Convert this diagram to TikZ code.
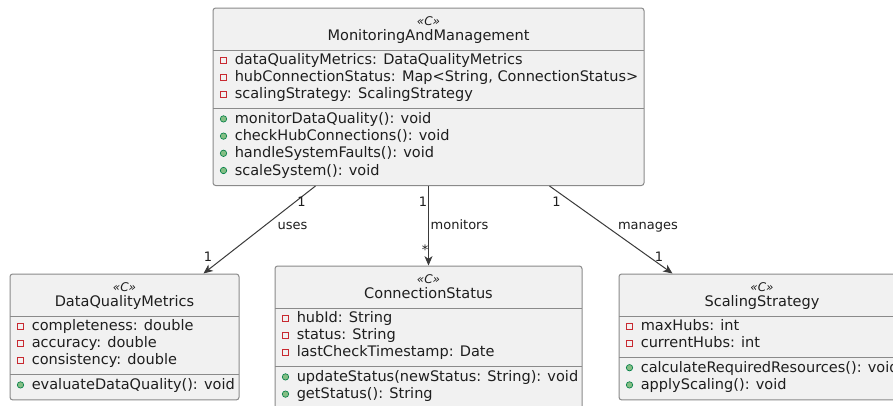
\documentclass[tikz,border=0pt]{standalone}
\usepackage{fontspec}
\setmainfont{DejaVu Sans}
\usetikzlibrary{arrows.meta,calc,fit}

\definecolor{boxfill}{HTML}{F1F1F1}
\definecolor{boxline}{HTML}{8A8A8A}
\definecolor{ink}{HTML}{1E1E1E}
\definecolor{privred}{HTML}{C82930}
\definecolor{pubfill}{HTML}{84BE84}
\definecolor{publine}{HTML}{038048}
\definecolor{wireclr}{HTML}{3A3A3A}

% one private attribute row: name, box left x, baseline y, text
\newcommand\attrrow[4]{%
  \draw[privicon] ({#2+7.5},{#3-7.5}) rectangle ({#2+13.5},{#3-1.5});
  \node[member] (#1) at ({#2+21.5},#3) {#4};}
% one public operation row: name, box left x, baseline y, text
\newcommand\oprow[4]{%
  \filldraw[pubicon] ({#2+10.5},{#3-4.5}) circle[radius=2.4pt];
  \node[member] (#1) at ({#2+21.5},#3) {#4};}

\begin{document}
\begin{tikzpicture}[x=0.75pt,y=-0.75pt,
  umlbox/.style={draw=boxline, fill=boxfill, line width=0.75pt, rounded corners=2pt, inner sep=0pt},
  sepline/.style={draw=boxline, line width=0.75pt},
  member/.style={anchor=base west, inner sep=0pt, text=ink, font=\fontsize{10.9}{13}\selectfont},
  classname/.style={anchor=base, inner sep=0pt, text=ink, font=\fontsize{10.9}{13}\selectfont},
  stereo/.style={anchor=base, inner sep=0pt, text=ink, font=\fontsize{9}{11}\selectfont\itshape},
  edgelabel/.style={anchor=base, inner sep=0pt, text=ink, font=\fontsize{9.75}{12}\selectfont},
  wire/.style={draw=wireclr, line width=0.75pt, -{Stealth[length=7pt,width=6pt,inset=2pt]}},
  privicon/.style={draw=privred, line width=0.6pt},
  pubicon/.style={fill=pubfill, draw=publine, line width=0.5pt}]

\useasboundingbox (0,0) rectangle (893,405);
\fill[white] (0,0) rectangle (893,405);
\clip (0,0) rectangle (893,405);

% ---- MonitoringAndManagement ----
\node[umlbox, fit={(213,8) (644,185.5)}] (mm) {};
\draw[sepline] (213,50) -- (644,50);
\draw[sepline] (213,108.9) -- (644,108.9);
\node[stereo] (mmst) at (428.5,25) {«C»};
\node[classname] (mmname) at (428.5,40.5) {MonitoringAndManagement};
\attrrow{mma1}{213}{64.5}{dataQualityMetrics: DataQualityMetrics}
\attrrow{mma2}{213}{81.7}{hubConnectionStatus: Map<String, ConnectionStatus>}
\attrrow{mma3}{213}{98.9}{scalingStrategy: ScalingStrategy}
\oprow{mmo1}{213}{123.4}{monitorDataQuality(): void}
\oprow{mmo2}{213}{140.6}{checkHubConnections(): void}
\oprow{mmo3}{213}{157.8}{handleSystemFaults(): void}
\oprow{mmo4}{213}{175.0}{scaleSystem(): void}

% ---- DataQualityMetrics ----
\node[umlbox, fit={(10,274) (239,399.9)}] (dqm) {};
\draw[sepline] (10,316) -- (239,316);
\draw[sepline] (10,374.9) -- (239,374.9);
\node[stereo] (dqmst) at (124.5,291.4) {«C»};
\node[classname] (dqmname) at (124.5,306.5) {DataQualityMetrics};
\attrrow{dqa1}{10}{330.5}{completeness: double}
\attrrow{dqa2}{10}{347.7}{accuracy: double}
\attrrow{dqa3}{10}{364.9}{consistency: double}
\oprow{dqo1}{10}{389.4}{evaluateDataQuality(): void}

% ---- ConnectionStatus ----
\node[umlbox, fit={(275,266) (582,409.4)}] (cs) {};
\draw[sepline] (275,308) -- (582,308);
\draw[sepline] (275,366.9) -- (582,366.9);
\node[stereo] (csst) at (428.5,283.4) {«C»};
\node[classname] (csname) at (428.5,298.5) {ConnectionStatus};
\attrrow{csa1}{275}{322.5}{hubId: String}
\attrrow{csa2}{275}{339.7}{status: String}
\attrrow{csa3}{275}{356.9}{lastCheckTimestamp: Date}
\oprow{cso1}{275}{381.4}{updateStatus(newStatus: String): void}
\oprow{cso2}{275}{398.6}{getStatus(): String}

% ---- ScalingStrategy ----
\node[umlbox, fit={(619,274) (905,399.9)}] (ss) {};
\draw[sepline] (619,316) -- (905,316);
\draw[sepline] (619,357.7) -- (905,357.7);
\node[stereo] (ssst) at (762,291.4) {«C»};
\node[classname] (ssname) at (762,306.5) {ScalingStrategy};
\attrrow{ssa1}{619}{330.5}{maxHubs: int}
\attrrow{ssa2}{619}{347.7}{currentHubs: int}
\oprow{sso1}{619}{372.2}{calculateRequiredResources(): void}
\oprow{sso2}{619}{389.4}{applyScaling(): void}

% ---- associations ----
\draw[wire] ($(mm.south west)+(103,0)$) -- ($(dqm.north west)+(194,0)$);
\draw[wire] (mm.south) -- (cs.north);
\draw[wire] ($(mm.south west)+(337,0)$) -- ($(ss.north west)+(54,0)$);

\node[edgelabel] (usesm1) at (301.5,206.5) {1};
\node[edgelabel] (uses) at (292.5,229) {uses};
\node[edgelabel] (usesm2) at (208,261.5) {1};

\node[edgelabel] (monm1) at (423,206.5) {1};
\node[edgelabel] (mon) at (459.5,229) {monitors};
\node[edgelabel] (monm2) at (425,254) {*};

\node[edgelabel] (manm1) at (556.5,206.5) {1};
\node[edgelabel] (man) at (648,229) {manages};
\node[edgelabel] (manm2) at (659,261.5) {1};
\end{tikzpicture}
\end{document}
